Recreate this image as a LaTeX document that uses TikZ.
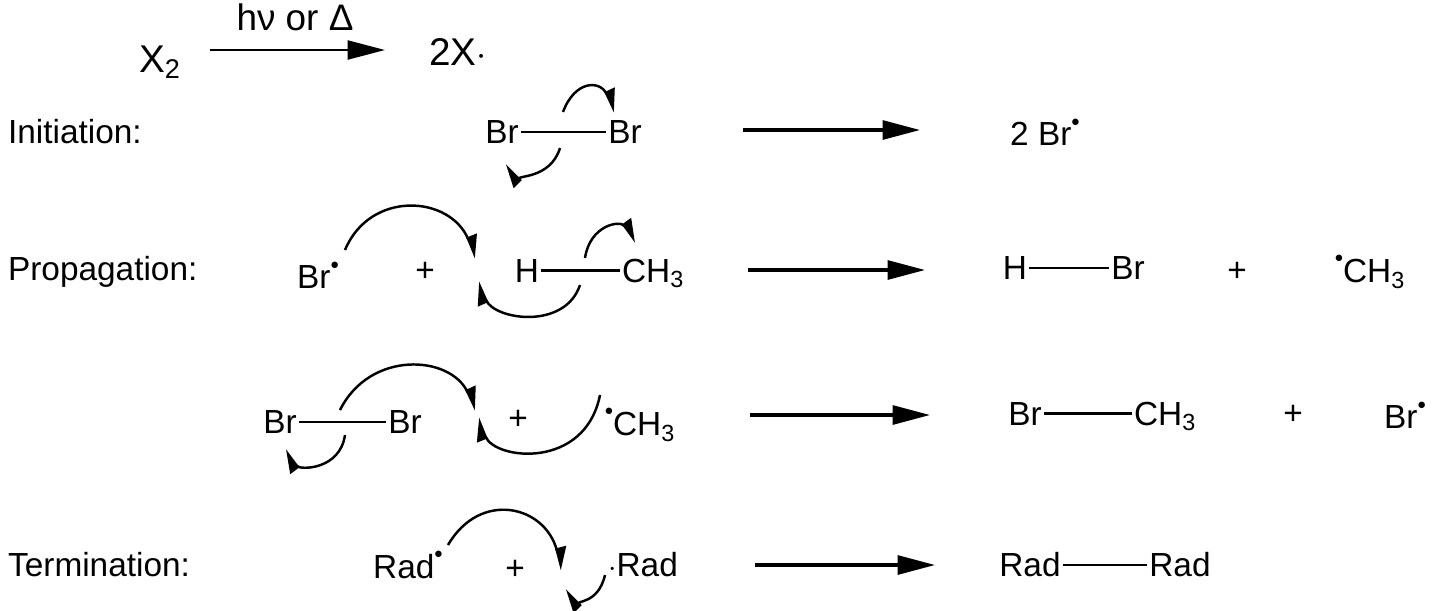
\documentclass[tikz,border=0pt]{standalone}
\usepackage{fontspec}
\setmainfont{Liberation Sans}
\usetikzlibrary{arrows.meta}
\newcommand{\rdot}{\raisebox{1.1ex}{\scalebox{0.55}{$\bullet$}}}
\tikzset{
  chem/.style={font=\fontsize{19}{22}\selectfont,inner sep=1pt},
  rxn/.style={-{Triangle[length=0.75cm,width=0.38cm]},line width=1.8pt},
  hook/.style={-{Triangle[harpoon,length=0.4cm,width=0.4cm]},line width=1.4pt},
  bond/.style={line width=1.2pt}
}
\begin{document}
\begin{tikzpicture}[x=0.02cm,y=-0.02cm]
  \useasboundingbox (0,0) rectangle (1440,610);
  % general scheme
  \node[chem,font=\fontsize{22}{26}\selectfont] (x2) at (160,62) {X\textsubscript{2}};
  \node[chem,font=\fontsize{22}{26}\selectfont] (twox) at (458,52) {2X$\cdot$};
  \draw[rxn,line width=1.4pt] (210,50) -- (385,50);
  \node[chem,font=\fontsize{21}{24}\selectfont] (cond) at (295,17) {hν or Δ};
  % initiation
  \node[chem,anchor=west] (lini) at (6,132) {Initiation:};
  \node[chem] (ibr1) at (502,132) {Br};
  \node[chem] (ibr2) at (625,132) {Br};
  \draw[bond] (ibr1.east) -- (ibr1.east -| ibr2.west);
  \draw[hook] (563,112) .. controls (575,80) and (600,80) .. (615,112);
  \draw[hook] (560,148) .. controls (550,180) and (515,175) .. (505,165);
  \draw[rxn] (743,130) -- (920,130);
  \node[chem] (ip) at (1045,132) {2 Br\rdot};
  % propagation
  \node[chem,anchor=west] (lpro) at (6,272) {Propagation:};
  \node[chem] (pbr) at (318,275) {Br\rdot};
  \node[chem] (pplus) at (425,272) {+};
  \node[chem,anchor=base] (ph) at (527,282) {H};
  \node[chem,anchor=base west] (pch) at (620,282) {CH\textsubscript{3}};
  \draw[bond] (ph.east) -- (ph.east -| pch.west);
  \draw[hook] (345,250) .. controls (370,190) and (450,195) .. (476,258);
  \draw[hook] (580,285) .. controls (565,330) and (495,320) .. (478,282);
  \draw[hook] (585,258) .. controls (590,225) and (620,220) .. (636,242);
  \draw[rxn] (748,270) -- (925,270);
  \node[chem] (phb) at (1015,268) {H};
  \node[chem] (pbrb) at (1128,268) {Br};
  \draw[bond] (phb.east) -- (phb.east -| pbrb.west);
  \node[chem] (pplus2) at (1237,272) {+};
  \node[chem] (pme) at (1370,272) {\rdot CH\textsubscript{3}};
  % second propagation step
  \node[chem] (qbr1) at (280,422) {Br};
  \node[chem] (qbr2) at (405,422) {Br};
  \draw[bond] (qbr1.east) -- (qbr1.east -| qbr2.west);
  \node[chem] (qplus) at (518,420) {+};
  \node[chem] (qme) at (640,425) {\rdot CH\textsubscript{3}};
  \draw[hook] (340,410) .. controls (370,350) and (450,355) .. (476,410);
  \draw[hook] (600,395) .. controls (585,470) and (495,460) .. (478,418);
  \draw[hook] (345,435) .. controls (340,470) and (300,470) .. (285,450);
  \draw[rxn] (750,415) -- (930,415);
  \node[chem,anchor=base] (qbrc) at (1025,425) {Br};
  \node[chem,anchor=base west] (qchc) at (1132,425) {CH\textsubscript{3}};
  \draw[bond] (qbrc.east) -- (qbrc.east -| qchc.west);
  \node[chem] (qplus2) at (1293,415) {+};
  \node[chem] (qbrr) at (1405,415) {Br\rdot};
  % termination
  \node[chem,anchor=west] (lter) at (6,565) {Termination:};
  \node[chem] (trad1) at (408,565) {Rad\rdot};
  \node[chem] (tplus) at (515,570) {+};
  \node[chem] (trad2) at (643,565) {$\cdot$Rad};
  \draw[hook] (448,545) .. controls (480,490) and (545,505) .. (562,570);
  \draw[hook] (605,575) .. controls (598,605) and (575,600) .. (565,590);
  \draw[rxn] (755,565) -- (935,565);
  \node[chem] (trc1) at (1030,565) {Rad};
  \node[chem] (trc2) at (1180,565) {Rad};
  \draw[bond] (trc1.east) -- (trc1.east -| trc2.west);
\end{tikzpicture}
\end{document}
